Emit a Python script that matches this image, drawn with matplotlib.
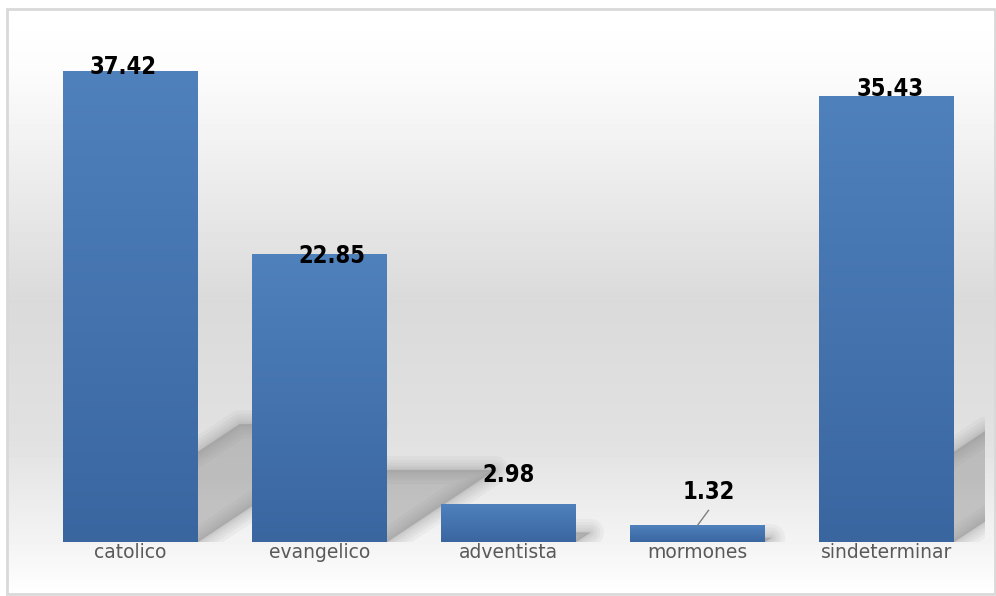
import numpy as np
import matplotlib.pyplot as plt
from matplotlib.patches import Polygon, Rectangle
from matplotlib.colors import LinearSegmentedColormap

categories = ['catolico', 'evangelico', 'adventista', 'mormones', 'sindeterminar']
values = [37.42, 22.85, 2.98, 1.32, 35.43]
labels = ['37.42', '22.85', '2.98', '1.32', '35.43']
# data label offsets in pixels (dx, dy from bar top)
label_off = [(-7, -8), (12, -14), (0, 17), (11, 21), (4, -5)]

W, H = 996, 596
fig = plt.figure(figsize=(W / 100, H / 100), dpi=100)

# background gradient inside a light gray frame
bg = fig.add_axes([8 / W, 2 / H, 986 / W, 584 / H])
stops_y = np.array([0, 60, 290, 430, 540, 584])
stops_c = np.array([255, 252, 218, 225, 245, 255])
ys = np.arange(584)
col = np.interp(ys, stops_y, stops_c) / 255.0
img = np.repeat(col[:, None], 2, axis=1)
bg.imshow(img, cmap='gray', vmin=0, vmax=1, aspect='auto', extent=[0, 1, 0, 1], origin='upper')
bg.set_axis_off()
fig.patches.append(Rectangle((7 / W, 2 / H), 988 / W, 585 / H, transform=fig.transFigure,
                             fill=False, edgecolor='#d9d9d9', linewidth=2))

ax = fig.add_axes([36 / W, 54 / H, 945 / W, 503.6 / H])
ax.patch.set_alpha(0)
ax.set_xlim(-0.5, 4.5)
ax.set_ylim(0, 40)
x = np.arange(len(categories))
bw = 0.714

px_x = 945 / 5.0        # pixels per x unit
px_y = 503.6 / 40.0     # pixels per y unit

# soft perspective shadows, only visible to the right of each bar
for i, v in enumerate(values):
    dy = 0.25 * v
    dx = dy * px_y * 1.5 / px_x
    x0, x1 = i - bw / 2, i + bw / 2
    pts = [(x0, 0), (x1, 0), (x1 + dx, dy), (x0 + dx, dy)]
    clip = Rectangle((x1 - 0.01, 0), 4.52 - x1 + 0.01, 40, transform=ax.transData)
    for lw in [20, 15, 11, 7, 4, 2, 0.5]:
        p = Polygon(pts, closed=True, facecolor='#8c8c8c', edgecolor='#8c8c8c',
                    linewidth=lw, alpha=0.08, zorder=1, joinstyle='round')
        ax.add_patch(p)
        p.set_clip_path(clip)

bars = ax.bar(x, values, width=bw, color='#4a78b3', zorder=2)
grad = np.linspace(0, 1, 256)[:, None]
cmap = LinearSegmentedColormap.from_list('b', ['#3a66a0', '#4f81bd'])
for b in bars:
    im = ax.imshow(grad, cmap=cmap, aspect='auto', origin='lower', zorder=3,
                   extent=[b.get_x(), b.get_x() + b.get_width(), 0, b.get_height()])
    im.set_clip_path(b)

for i, (v, t) in enumerate(zip(values, labels)):
    dx, dy = label_off[i]
    ax.annotate(t, xy=(i, v), xytext=(dx * 0.72, dy * 0.72), textcoords='offset points',
                ha='center', va='bottom', fontsize=17, fontweight='bold',
                family='DejaVu Sans', fontstretch='condensed', color='black', zorder=5)

# leader line for the small value
ax.plot([3, 3 + 11 / px_x], [values[3], values[3] + 15 / px_y], color='#7f7f7f', lw=1, zorder=4)

ax.set_xticks(x)
ax.set_xticklabels(categories, fontsize=13.5, color='#595959')
ax.tick_params(axis='x', length=0, pad=1)
ax.set_yticks([])
for s in ax.spines.values():
    s.set_visible(False)

fig.savefig('out.png', dpi=100)
